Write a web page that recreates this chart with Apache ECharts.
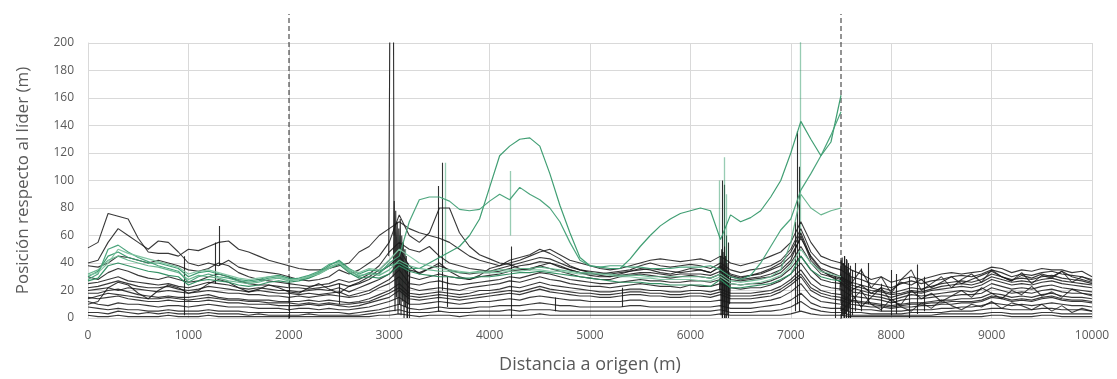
<!DOCTYPE html>
<html><head><meta charset="utf-8">
<script src="https://cdn.jsdelivr.net/npm/echarts@6/dist/echarts.min.js"></script>
<style>html,body{margin:0;padding:0;background:#fff}#c{width:1117px;height:379px}</style>
</head><body><div id="c"></div>
<script>
// sample positions (m)
const distances = [0,100,200,300,400,500,600,700,800,900,
1000,1100,1200,1300,1400,1500,1600,1700,1800,1900,
2000,2100,2200,2300,2400,2500,2600,2700,2800,2900,
3000,3100,3200,3300,3400,3500,3600,3700,3800,3900,
4000,4100,4200,4300,4400,4500,4600,4700,4800,4900,
5000,5100,5200,5300,5400,5500,5600,5700,5800,5900,
6000,6100,6200,6300,6400,6500,6600,6700,6800,6900,
7000,7100,7200,7300,7400,7500,7600,7700,7800,7900,
8000,8100,8200,8300,8400,8500,8600,8700,8800,8900,
9000,9100,9200,9300,9400,9500,9600,9700,9800,9900,10000];
const lateDistances = [7500,7600,7700,7800,7900,8000,8100,8200,8300,8400,8500,8600,8700,8800,8900,9000,9100,9200,9300,9400,9500,9600,9700,9800,9900,10000];

// black series (0..10000 m)
const b1 = [51,55,76,74,72,58,48,47,47,45, 50,49,52,55,56,50,48,45,42,40, 38,36,35,35,36,38,40,48,52,60, 65,70,65,62,60,58,55,50,45,42, 40,38,40,42,45,48,50,46,42,40, 38,36,35,36,38,40,42,43,42,41, 42,43,41,45,40,38,40,42,45,48, 55,70,55,45,42,40,35,32,28,30, 26,28,30,28,30,32,33,32,33,34, 37,36,33,35,34,36,35,35,33,34, 30];
const b2 = [40,42,55,65,60,55,50,56,55,48, 40,38,40,38,42,37,35,34,33,32, 30,28,27,28,30,35,32,35,40,45, 55,75,60,55,62,80,80,62,52,46, 43,40,39,36,35,38,40,38,35,33, 32,32,33,34,35,38,40,38,37,38, 39,38,36,40,35,33,35,36,38,42, 50,65,48,40,37,35,30,28,25,24, 22,25,27,25,27,28,30,31,30,32, 35,33,30,32,31,33,34,32,31,30, 28];
const b3 = [38,37,40,45,44,42,40,42,40,38, 35,34,36,40,38,33,30,28,27,26, 25,24,23,24,25,28,26,28,32,38, 48,55,50,48,52,45,40,38,36,35, 34,36,38,40,42,44,43,40,37,35, 34,33,32,33,34,35,36,35,34,33, 34,35,33,38,32,30,31,32,35,38, 45,58,45,36,33,30,26,24,22,20, 18,20,22,21,23,25,26,27,26,28, 32,30,28,29,28,30,31,29,28,27, 25];
const b4 = [25,26,28,30,27,26,25,24,25,23, 22,24,26,25,24,22,21,22,21,20, 20,19,20,21,20,22,19,22,25,28, 32,40,30,28,30,32,30,29,28,30, 31,32,34,35,36,38,36,34,32,30, 29,28,28,30,31,32,31,30,29,30, 31,30,29,32,28,27,28,29,30,33, 40,52,40,32,30,28,22,20,18,17, 15,17,19,18,20,21,22,23,22,24, 28,26,24,25,24,26,27,25,24,23, 22];
const b5 = [22,23,25,27,25,23,22,22,23,21, 20,21,23,22,21,20,19,20,19,18, 18,17,18,17,18,19,16,18,20,24, 28,35,25,24,26,27,25,24,25,26, 27,28,30,29,31,33,32,30,28,27, 26,25,25,26,27,28,27,27,26,26, 27,27,26,28,25,24,25,25,27,30, 36,45,35,28,26,25,19,18,16,15, 13,15,17,16,17,18,19,20,19,21, 25,23,21,22,21,23,24,22,21,20, 19];
const b6 = [20,21,22,20,22,21,20,19,20,19, 18,19,20,19,18,18,17,17,16,16, 15,16,15,16,17,16,15,16,18,22, 25,30,22,20,21,22,21,20,22,23, 24,25,27,26,28,30,28,27,25,24, 23,23,22,23,24,25,24,23,23,22, 24,23,23,25,22,21,22,22,24,27, 32,40,30,24,22,21,16,15,14,13, 11,13,14,14,15,16,16,17,17,18, 22,20,18,19,18,20,21,19,18,18, 17];
const b7 = [18,18,20,21,19,17,16,15,16,15, 15,16,17,15,14,14,13,13,13,12, 12,12,13,12,13,12,11,12,14,17, 20,25,18,17,18,19,18,17,18,20, 20,21,23,22,24,26,24,23,22,21, 20,19,19,20,21,21,20,20,19,19, 20,20,19,21,18,18,18,19,20,23, 28,35,25,20,18,17,13,12,11,10, 9,10,11,11,12,13,13,14,14,15, 18,17,15,16,15,17,18,16,15,15, 14];
const b8 = [15,14,15,16,14,13,12,12,13,12, 12,12,13,12,11,11,10,10,10,9, 9,9,10,9,10,9,8,9,11,13, 15,20,14,13,14,15,14,13,14,15, 16,17,18,17,19,21,19,18,17,16, 16,15,15,16,17,17,16,16,15,15, 16,16,15,17,14,14,14,15,16,19, 24,30,20,16,14,13,10,9,8,8, 7,8,8,9,9,10,10,11,11,12, 15,14,12,13,12,14,15,13,12,12, 11];
const b9 = [12,10,9,11,10,10,9,8,9,9, 8,9,10,9,8,8,8,7,7,7, 6,7,7,6,7,6,6,7,8,10, 12,15,10,10,11,12,11,10,11,12, 12,13,14,13,15,16,15,14,13,13, 12,12,12,12,13,13,12,12,12,12, 12,12,12,13,11,11,11,12,13,15, 19,25,16,12,11,10,7,6,6,5, 5,5,6,6,6,7,7,8,8,9, 11,10,9,10,9,10,11,10,9,9, 8];
const b10 = [8,7,6,7,6,6,5,5,6,5, 5,5,6,5,5,5,4,4,4,4, 4,4,4,4,4,4,3,4,5,6, 8,10,7,6,7,8,7,7,7,8, 8,9,9,9,10,11,10,9,9,8, 8,8,8,8,9,9,8,8,8,8, 8,8,8,9,7,7,7,8,9,10, 13,18,11,8,7,7,4,4,3,3, 3,3,4,4,4,4,5,5,5,6, 7,7,6,6,6,7,7,6,6,6, 5];
const b11 = [4,4,3,5,4,3,4,3,4,3, 3,3,4,3,3,3,2,3,2,2, 2,2,3,2,2,2,2,2,3,4, 5,6,4,4,4,5,4,4,4,5, 5,5,6,5,6,6,6,5,5,5, 5,5,5,5,5,5,5,5,5,5, 5,5,5,6,4,4,4,5,5,6, 8,12,7,5,4,4,2,2,2,2, 2,2,2,2,2,3,3,3,3,3, 4,4,3,3,3,4,4,3,3,3, 3];
const b12 = [2,1,1,2,1,1,1,1,2,1, 1,1,2,1,1,1,1,1,1,1, 1,1,1,1,1,1,1,1,1,2, 2,3,2,1,2,2,2,1,2,2, 2,2,2,2,2,3,2,2,2,2, 2,2,2,2,2,2,2,2,2,2, 2,2,2,3,2,2,2,2,2,2, 3,5,3,2,2,2,1,1,1,1, 1,1,1,1,1,1,1,1,1,1, 2,2,1,1,1,2,2,1,1,1, 1];
const b13 = [30,28,33,36,34,31,29,28,30,28, 26,27,30,32,30,27,25,24,24,23, 22,22,21,22,23,25,23,25,28,33, 38,45,35,33,36,38,35,33,32,33, 33,34,36,38,39,41,40,37,35,33, 31,30,30,31,32,33,33,32,31,32, 32,32,31,34,30,28,29,30,32,35, 42,60,42,34,31,29,24,22,20,19, 17,18,20,19,21,23,24,25,24,26, 30,28,26,27,26,28,29,27,26,25, 24];
const b14 = [14,16,18,17,16,15,14,14,15,14, 13,14,15,14,13,13,12,12,11,11, 11,10,11,10,11,10,10,11,12,15, 18,22,16,15,16,17,16,15,16,17, 18,19,20,19,21,23,21,20,19,18, 18,17,17,18,19,19,18,18,17,17, 18,18,17,19,16,16,16,17,18,21, 26,32,22,18,16,15,12,11,10,9, 8,9,10,10,11,11,12,12,12,13, 16,15,13,14,13,15,16,14,13,13, 12];
// crossing / wandering black series
const b15 = [10,12,22,26,24,18,14,20,24,22, 18,20,25,28,26,22,19,21,24,22, 19,18,22,25,21,18,23,26,30,35, 42,50,38,32,36,40,34,30,28,31, 36,38,42,44,46,50,47,43,38,35, 33,31,30,32,34,36,35,33,32,34, 36,35,33,37,31,29,31,33,36,40, 48,62,44,35,30,26,20,24,18,22, 20,26,24,28,22,26,30,25,28,31, 34,30,27,31,29,32,30,34,30,28, 26];
const late1 = [30,25,35,22,30,18,28,35,20,25,30,22,28,32,26,35,30,27,33,25,31,29,34,26,30,27];
const late2 = [10,18,8,15,22,12,10,20,14,18,12,16,20,15,22,18,14,20,17,23,16,19,15,21,18,16];
const late3 = [5,12,20,10,6,14,8,5,11,7,13,9,6,10,8,12,7,11,9,6,10,5,9,4,7,5];

// green series (0..7500 m)
const ga = [30,34,45,48,44,42,40,40,38,36, 30,33,34,32,30,28,27,28,30,31, 29,28,30,33,38,42,36,32,35,34, 38,40,36,36,40,44,48,52,60,72, 95,118,125,130,131,125,105,82,62,44, 38,37,36,36,43,52,60,67,72,76, 78,80,78,57,75,70,73,78,88,100, 120,143,130,118,128,162];
const gb = [28,32,50,53,48,44,41,38,36,34, 26,30,32,30,29,27,26,27,29,30, 28,29,31,34,39,41,35,30,33,32, 40,45,70,86,88,88,85,79,78,79, 85,90,86,95,90,86,80,70,55,42, 38,37,38,38,37,37,36,36,36,37, 37,37,38,35,30,28,31,40,52,64, 72,93,105,118,133,150];
const gc = [32,35,42,45,42,40,38,37,35,33, 28,31,30,29,27,26,25,26,28,29, 27,28,30,33,37,40,34,31,32,31, 35,42,38,36,35,34,34,33,33,34, 34,35,35,36,36,37,36,35,34,33, 33,32,32,31,31,31,30,30,30,30, 30,30,29,32,27,26,27,28,30,35, 55,90,80,75,78,80];
const gd = [27,29,38,40,38,36,34,33,31,30, 24,27,28,27,26,24,23,24,26,27, 26,27,29,32,36,39,33,29,30,29, 32,38,34,32,31,30,30,29,29,30, 30,31,32,33,33,34,33,32,31,30, 29,28,27,26,26,26,25,25,24,24, 24,24,23,28,22,22,23,24,25,28, 32,45,35,30,28,27];
const ge = [31,33,40,50,47,45,43,41,39,37, 32,34,35,33,31,29,28,29,30,30, 28,28,30,32,36,40,35,33,36,35, 42,50,45,40,38,36,35,34,33,33, 33,33,34,34,35,35,34,34,33,32, 32,32,31,30,30,29,29,28,28,28, 28,27,27,30,25,24,25,26,28,31, 38,50,40,34,32,30];

// vertical strokes [x, from, to]
const blackStrokes = [[960,2,45],[1270,25,55],[1310,38,67],[2000,0,30],[2500,10,25],[3180,0,40],[3200,0,35],[3490,5,96],[3530,20,113],[3580,8,30],[4220,0,52],[4650,5,15],[5320,8,22],[6320,0,100],[6340,0,97],[6360,0,60],[6380,0,55],[7040,5,70],[7060,10,136],[7080,5,110],[7440,0,30],[7530,0,45],[7550,0,43],[7570,0,40],[7590,0,38],[7610,2,35],[7640,5,40],[7700,5,36],[7770,10,40],[7900,5,25],[8000,2,35],[8050,3,32],[8180,0,30],[8260,3,39],[8330,5,30]];
const greenStrokes = [[3100,20,60],[3130,15,55],[3160,25,50],[3560,40,113],[4210,60,107],[6290,30,100],[6340,40,117],[6360,20,90],[7095,60,210]];
// tall spike pair near 3000 m
const spike3000 = [[2995,45],[3012,300],[3040,300],[3048,60]];
// dense oscillation clusters
const noise3050 = [[3040,30],[3050,85],[3058,5],[3065,78],[3072,15],[3080,70],[3088,3],[3095,65],[3103,10],[3110,72],[3118,2],[3125,60],[3133,12],[3140,55],[3148,0],[3155,50],[3162,8],[3170,45],[3178,0],[3185,40],[3195,10],[3205,35]];
const noise6300 = [[6290,20],[6300,45],[6305,2],[6312,50],[6318,0],[6325,48],[6332,3],[6340,52],[6346,0],[6352,45],[6358,5],[6365,40],[6372,2],[6380,35],[6390,10],[6400,30]];
const noise7500 = [[7490,20],[7500,42],[7506,0],[7512,44],[7518,2],[7524,40],[7530,0],[7536,45],[7542,3],[7548,38],[7554,0],[7560,42],[7566,5],[7572,36],[7578,0],[7584,33],[7590,8],[7600,30]];
const dashedAt = [2000, 7500];

const xTicks = {min:0, max:10000, interval:1000};
const yTicks = {min:0, max:200, interval:20};

const blackColor = '#161616';
const greenColors = ['#36996c','#42a076','#62b28a','#2c8c5f','#7cc29f'];

const series = [];
[b1,b2,b3,b4,b5,b6,b7,b8,b9,b10,b11,b12,b13,b14,b15].forEach(arr => {
  series.push({type:'line', data: arr.map((v,i)=>[distances[i], v]), symbol:'none', silent:true,
    lineStyle:{color:blackColor, width:1.1, opacity:0.85}});
});
[late1, late2, late3].forEach(arr => {
  series.push({type:'line', data: arr.map((v,i)=>[lateDistances[i], v]), symbol:'none', silent:true,
    lineStyle:{color:blackColor, width:1.1, opacity:0.8}});
});
[noise3050, noise6300, noise7500, spike3000].forEach(arr => {
  series.push({type:'line', data: arr, symbol:'none', silent:true, lineStyle:{color:'#1a1a1a', width:1.1, opacity:0.9}});
});
series.push({type:'lines', coordinateSystem:'cartesian2d', silent:true, clip:true,
  data: blackStrokes.map(s=>({coords:[[s[0],s[1]],[s[0],s[2]]]})), lineStyle:{color:'#1a1a1a', width:1.1, opacity:0.9}});
[ga,gb,gc,gd,ge].forEach((arr,k) => {
  series.push({type:'line', data: arr.map((v,i)=>[distances[i], v]), symbol:'none', silent:true,
    lineStyle:{color:greenColors[k], width:1.2, opacity:0.95}});
});
series.push({type:'lines', coordinateSystem:'cartesian2d', silent:true, clip:true,
  data: greenStrokes.map(s=>({coords:[[s[0],s[1]],[s[0],s[2]]]})), lineStyle:{color:'#2f9a68', width:1.3}});
series.push({type:'lines', coordinateSystem:'cartesian2d', xAxisIndex:1, yAxisIndex:1, silent:true,
  data: dashedAt.map(x=>({coords:[[x,0],[x,1]]})), lineStyle:{color:'#2a2a2a', width:2, type:[5,3]}});

const gridColor = '#d9d9d9';
const chart = echarts.init(document.getElementById('c'), null, {renderer:'canvas'});
chart.setOption({
  animation:false,
  backgroundColor:'#fff',
  textStyle:{fontFamily:'Open Sans'},
  grid:[{left:88, right:25, top:43, bottom:60},{left:88, right:25, top:14, bottom:60}],
  xAxis:[{type:'value', gridIndex:0, min:xTicks.min, max:xTicks.max, interval:xTicks.interval,
    axisLine:{show:true, lineStyle:{color:gridColor}}, axisTick:{show:false},
    splitLine:{show:true, lineStyle:{color:gridColor}},
    axisLabel:{color:'#595959', fontSize:12, margin:12, fontFamily:'Open Sans', formatter: v => String(v)},
    name:'Distancia a origen (m)', nameLocation:'middle', nameGap:38,
    nameTextStyle:{color:'#595959', fontSize:18, fontFamily:'Open Sans'}},
   {type:'value', gridIndex:1, min:xTicks.min, max:xTicks.max, show:false}],
  yAxis:[{type:'value', gridIndex:0, min:yTicks.min, max:yTicks.max, interval:yTicks.interval,
    axisLine:{show:true, lineStyle:{color:gridColor}}, axisTick:{show:false},
    splitLine:{show:true, lineStyle:{color:gridColor}},
    axisLabel:{color:'#595959', fontSize:12, margin:14, fontFamily:'Open Sans', formatter: v => String(v)},
    name:'Posición respecto al líder (m)', nameLocation:'middle', nameGap:56, nameRotate:90,
    nameTextStyle:{color:'#595959', fontSize:17, fontFamily:'Open Sans'}},
   {type:'value', gridIndex:1, min:0, max:1, show:false}],
  series: series
});
</script></body></html>
